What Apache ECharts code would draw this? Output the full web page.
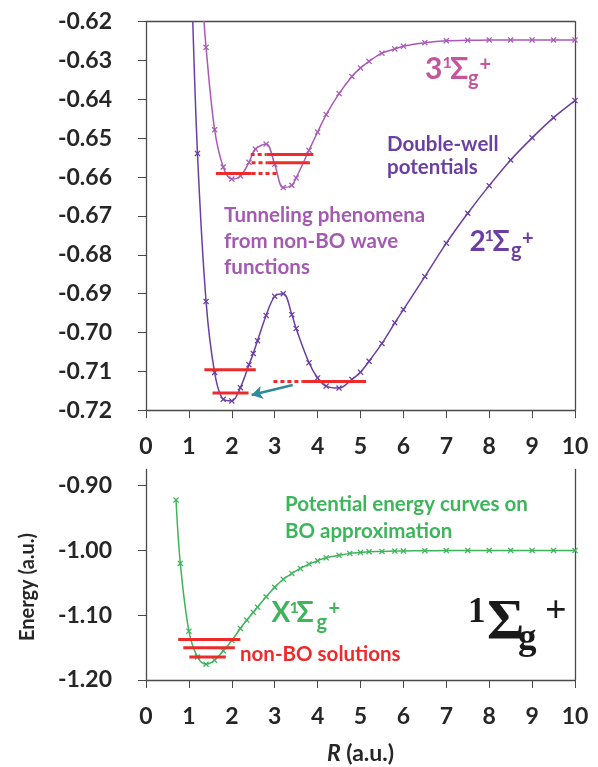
<!DOCTYPE html>
<html><head><meta charset="utf-8">
<script src="https://cdn.jsdelivr.net/npm/echarts@6/dist/echarts.min.js"></script>
<style>html,body{margin:0;padding:0;background:#fff}#c{width:598px;height:767px}</style>
</head><body><div id="c"></div>
<script>
// ---------- DATA ----------
// 3 1Sigma_g+ potential curve (first point lies above the plot, no marker)
const s3X = [1.31, 1.40, 1.60, 1.80, 2.00, 2.20, 2.40, 2.55, 2.80, 3.00, 3.20, 3.40, 3.50, 3.80, 4.00, 4.20, 4.50, 4.80, 5.00, 5.20, 5.50, 5.80, 6.00, 6.50, 7.00, 7.50, 8.00, 8.50, 9.00, 9.50, 10.00];
const s3Y = [-0.613, -0.6266, -0.6478, -0.6574, -0.6605, -0.6597, -0.6562, -0.6528, -0.6515, -0.6567, -0.6627, -0.6621, -0.6602, -0.6531, -0.6484, -0.6439, -0.6385, -0.6341, -0.6319, -0.6302, -0.6281, -0.6270, -0.6263, -0.6254, -0.6249, -0.6248, -0.6247, -0.6247, -0.6247, -0.6247, -0.6247];
// 2 1Sigma_g+ potential curve (first point above the plot, no marker)
const s2X = [1.07, 1.20, 1.40, 1.60, 1.80, 2.00, 2.20, 2.40, 2.50, 2.60, 2.80, 3.00, 3.20, 3.40, 3.50, 3.80, 4.00, 4.20, 4.50, 4.80, 5.00, 5.20, 5.50, 5.80, 6.00, 6.50, 7.00, 7.50, 8.00, 8.50, 9.00, 9.50, 10.00];
const s2Y = [-0.612, -0.6539, -0.6920, -0.7103, -0.7172, -0.7176, -0.7142, -0.7083, -0.7054, -0.7021, -0.6956, -0.6907, -0.6900, -0.6954, -0.6990, -0.7078, -0.7117, -0.7138, -0.7143, -0.7121, -0.7102, -0.7074, -0.7028, -0.6975, -0.6941, -0.6856, -0.6770, -0.6693, -0.6622, -0.6556, -0.6499, -0.6447, -0.6403];
// X 1Sigma_g+ ground state curve
const gX = [0.70, 0.80, 1.00, 1.20, 1.40, 1.60, 1.80, 2.00, 2.20, 2.35, 2.50, 2.60, 2.80, 3.00, 3.20, 3.40, 3.60, 3.80, 4.00, 4.20, 4.50, 4.75, 5.00, 5.20, 5.50, 5.80, 6.00, 6.50, 7.00, 7.50, 8.00, 8.50, 9.00, 9.50, 10.00];
const gY = [-0.922, -1.020, -1.1246, -1.1643, -1.1756, -1.1694, -1.155, -1.139, -1.1204, -1.1075, -1.0955, -1.0875, -1.0715, -1.0568, -1.0445, -1.0354, -1.0277, -1.0210, -1.0159, -1.0113, -1.0075, -1.0045, -1.003, -1.002, -1.0015, -1.001, -1.0008, -1.0004, -1.0002, -1.0, -1.0, -1.0, -1.0, -1.0, -1.0];
// non-BO levels: [energy, xStart, xEnd]
const topSolidLevels = [[-0.6591, 1.63, 2.46], [-0.6563, 2.84, 3.82], [-0.6542, 2.81, 3.90], [-0.7096, 1.36, 2.56], [-0.7156, 1.55, 2.39], [-0.7126, 3.64, 5.13]];
const topDottedLevels = [[-0.6591, 2.46, 3.08], [-0.6563, 2.46, 2.84], [-0.6542, 2.44, 2.81], [-0.7126, 2.97, 3.64]];
const bottomLevels = [[-1.1374, 0.75, 2.20], [-1.1504, 0.87, 2.07], [-1.1643, 1.01, 1.86]];
// tunneling arrow: [from, to]
const arrowPts = [[3.42, -0.7135], [2.46, -0.7161]];
// tick labels
const xTicks = [0, 1, 2, 3, 4, 5, 6, 7, 8, 9, 10];
const topYTicks = [-0.72, -0.71, -0.70, -0.69, -0.68, -0.67, -0.66, -0.65, -0.64, -0.63, -0.62];
const bottomYTicks = [-1.20, -1.10, -1.00, -0.90];

// ---------- STYLE ----------
const FONT = 'Lato, "Open Sans", "Noto Sans", sans-serif';
const SERIF = '"Liberation Serif", "DejaVu Serif", serif';
const AX = '#4a4a4a';
const LBL = '#262626';
const C3 = '#a95ab6', C2 = '#6b3fa2', CG = '#3db55a', CR = '#ee2a2a', CT = '#2f8a9c';
const XSYM = 'path://M1.5,0L5,3.5L8.5,0L10,1.5L6.5,5L10,8.5L8.5,10L5,6.5L1.5,10L0,8.5L3.5,5L0,1.5Z';

function pts(xs, ys, hideFirst) {
  return xs.map((x, i) => (hideFirst && i === 0) ? {value: [x, ys[i]], symbol: 'none'} : [x, ys[i]]);
}
function curve(name, xs, ys, color, xi, yi, hideFirst) {
  return {name, type: 'line', xAxisIndex: xi, yAxisIndex: yi, data: pts(xs, ys, hideFirst),
    smooth: 0.35, symbol: XSYM, symbolSize: 6, showSymbol: true, clip: true,
    lineStyle: {color, width: 1.5}, itemStyle: {color}, z: 3, animation: false};
}
function level(lv, xi, yi, dotted) {
  return {type: 'line', xAxisIndex: xi, yAxisIndex: yi, data: [[lv[1], lv[0]], [lv[2], lv[0]]],
    symbol: 'none', lineStyle: {color: CR, width: 3, type: dotted ? [4, 3] : 'solid', cap: 'butt'}, z: 5, animation: false};
}
function xAxisCfg(gi) {
  return {type: 'value', gridIndex: gi, min: 0, max: 10, interval: 1,
    axisLine: {onZero: false, lineStyle: {color: AX, width: 1.3}},
    axisTick: {show: true, length: 8, lineStyle: {color: AX}},
    axisLabel: {margin: 25, color: LBL, fontFamily: FONT, fontWeight: 'bold', fontSize: 23,
      customValues: xTicks, formatter: v => String(Math.round(v))},
    splitLine: {show: false}};
}
function frameAxis(kind, gi, pos) {
  return {type: 'value', gridIndex: gi, position: pos, min: 0, max: 1,
    axisLine: {show: true, onZero: false, lineStyle: {color: AX, width: 1.3}},
    axisTick: {show: false}, axisLabel: {show: false}, splitLine: {show: false}};
}
function yAxisCfg(gi, min, max, interval, ticks) {
  return {type: 'value', gridIndex: gi, min, max, interval,
    axisLine: {onZero: false, lineStyle: {color: AX, width: 1.3}},
    axisTick: {show: true, length: 8, lineStyle: {color: AX}, customValues: ticks},
    axisLabel: {margin: 34, color: LBL, fontFamily: FONT, fontWeight: 'bold', fontSize: 23,
      customValues: ticks, formatter: v => v.toFixed(2)},
    splitLine: {show: false}};
}
function t(x, y, text, size, color, extra) {
  return {type: 'text', x, y, silent: true, z: 100,
    style: Object.assign({text, fill: color, font: 'bold ' + size + 'px ' + FONT,
      align: 'left', textAlign: 'left', verticalAlign: 'middle', textVerticalAlign: 'middle'}, extra || {})};
}
function ts(x, y, text, size, color) {
  return {type: 'text', x, y, silent: true, z: 100,
    style: {text, fill: color, font: 'bold ' + size + 'px ' + SERIF,
      align: 'left', textAlign: 'left', verticalAlign: 'middle', textVerticalAlign: 'middle'}};
}
function block(x, top, text, size, color, lh) {
  return {type: 'text', x, y: top, silent: true, z: 100,
    style: {text, fill: color, font: 'bold ' + size + 'px ' + FONT, lineHeight: lh,
      align: 'left', textAlign: 'left', verticalAlign: 'top', textVerticalAlign: 'top'}};
}

const series = [
  curve('3Σ', s3X, s3Y, C3, 0, 0, true),
  curve('2Σ', s2X, s2Y, C2, 0, 0, true),
  curve('XΣ', gX, gY, CG, 2, 2, false)
];
topSolidLevels.forEach(l => series.push(level(l, 0, 0, false)));
topDottedLevels.forEach(l => series.push(level(l, 0, 0, true)));
bottomLevels.forEach(l => series.push(level(l, 2, 2, false)));
series.push({type: 'line', xAxisIndex: 0, yAxisIndex: 0, data: [], symbol: 'none', animation: false,
  markLine: {silent: true, symbol: ['none', 'arrow'], symbolSize: [10, 11], label: {show: false},
    lineStyle: {color: CT, width: 2.6, type: 'solid'},
    data: [[{coord: arrowPts[0]}, {coord: arrowPts[1]}]]}});

const option = {
  animation: false,
  backgroundColor: '#fff',
  grid: [
    {left: 146, top: 21.7, width: 429, height: 388.5},
    {left: 146, top: 469.5, width: 429, height: 210.5}
  ],
  xAxis: [
    xAxisCfg(0),
    frameAxis('x', 0, 'top'),
    Object.assign(xAxisCfg(1), {name: '{i|R} (a.u.)', nameLocation: 'middle', nameGap: 62,
      nameTextStyle: {color: LBL, fontFamily: FONT, fontWeight: 'bold', fontSize: 23,
        rich: {i: {fontStyle: 'italic', fontWeight: 'bold', fontFamily: FONT, fontSize: 23, color: LBL}}}})
  ],
  yAxis: [
    yAxisCfg(0, -0.72, -0.62, 0.01, topYTicks),
    frameAxis('y', 0, 'right'),
    yAxisCfg(1, -1.2, -0.875, 0.1, bottomYTicks),
    frameAxis('y', 1, 'right')
  ],
  series,
  graphic: [
    {type: 'text', x: 28, y: 587, rotation: Math.PI / 2, silent: true,
      style: {text: 'Energy (a.u.)', fill: LBL, font: 'bold 20px ' + FONT,
        align: 'center', textAlign: 'center', verticalAlign: 'middle', textVerticalAlign: 'middle'}},
    // 3 1Σg+
    t(425, 69.2, '3', 30, '#c4569e'), t(442.5, 62.5, '1', 16, '#c4569e'), t(450, 69.2, 'Σ', 30, '#c4569e'),
    t(468, 78.5, 'g', 20, '#c4569e'), t(479.5, 64.5, '+', 20, '#c4569e'),
    // 2 1Σg+
    t(469.5, 241.7, '2', 28, C2), t(484.5, 235.8, '1', 16, C2), t(492.5, 241.7, 'Σ', 28, C2),
    t(511, 250.5, 'g', 20, C2), t(522, 239, '+', 20, C2),
    // X 1Σg+
    t(271.5, 613, 'X', 28, CG), t(289.5, 607.5, '1', 16, CG), t(296.5, 613, 'Σ', 28, CG),
    t(316.5, 622.5, 'g', 20, CG), t(328.5, 609, '+', 20, CG),
    // black 1Σg+
    ts(468, 613.3, '1', 35, '#1a1a1a'), ts(487, 624, 'Σ', 57, '#1a1a1a'),
    ts(518, 639.5, 'g', 37, '#1a1a1a'), ts(545, 612.2, '+', 38, '#1a1a1a'),
    // annotations
    block(224, 202, 'Tunneling phenomena\nfrom non-BO wave\nfunctions', 20.5, '#a55ab2', 26),
    block(387, 132.5, 'Double-well\npotentials', 20.5, C2, 23.5),
    block(285, 491.5, 'Potential energy curves on\nBO approximation', 20.5, CG, 26.6),
    t(240, 654.7, 'non-BO solutions', 20.5, CR)
  ]
};
const chart = echarts.init(document.getElementById('c'), null, {renderer: 'canvas'});
chart.setOption(option);
</script></body></html>
